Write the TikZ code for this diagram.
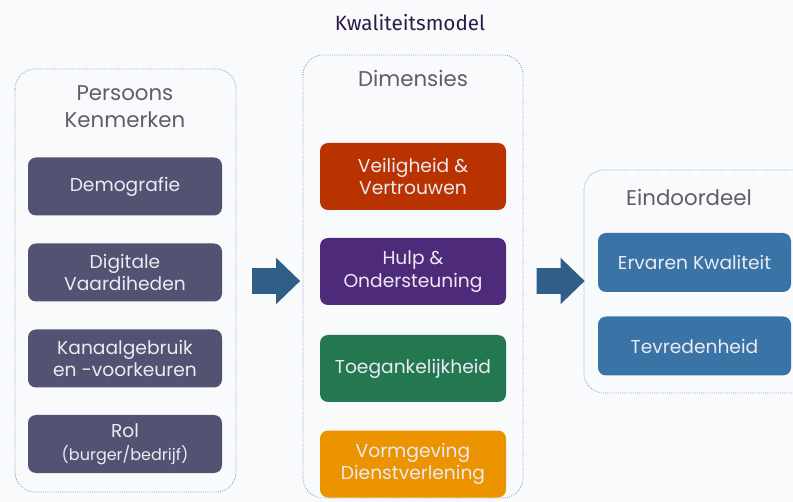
\documentclass[tikz,border=0pt]{standalone}
\usepackage{fontspec}
\setmainfont{Poppins}
\newfontfamily\titlefont{Fira Sans}
\usetikzlibrary{shapes.arrows}
\definecolor{bgcol}{HTML}{F9FAFC}
\definecolor{titlecol}{HTML}{2D1B45}
\definecolor{headcol}{HTML}{5E5E6A}
\definecolor{framecol}{HTML}{7F95B5}
\definecolor{slate}{HTML}{545272}
\definecolor{rust}{HTML}{B83300}
\definecolor{plum}{HTML}{4E2A7A}
\definecolor{jade}{HTML}{237852}
\definecolor{amber}{HTML}{EB9400}
\definecolor{steel}{HTML}{3A74A6}
\definecolor{arrowcol}{HTML}{2F5E87}
\definecolor{boxtext}{HTML}{ECEAF2}
\tikzset{
  x=0.75pt, y=-0.75pt,
  frame/.style={draw=framecol, densely dotted, line width=0.6pt, rounded corners=15pt},
  heading/.style={text=headcol, font=\fontsize{16}{20}\selectfont, align=center, inner sep=0pt},
  card/.style={rounded corners=6pt, align=center, text=boxtext, inner sep=0pt,
    font=\fontsize{14}{17}\selectfont},
  leftcard/.style={card, fill=slate, minimum width=145.5pt, minimum height=43.5pt},
  midcard/.style={card, minimum width=139.5pt, minimum height=50.25pt},
  rightcard/.style={card, fill=steel, minimum width=144.75pt, minimum height=44.25pt},
  flow/.style={single arrow, fill=arrowcol, inner xsep=0pt, inner ysep=9.375pt,
    minimum height=36pt, minimum width=34.5pt, single arrow head extend=7.875pt,
    single arrow tip angle=88, shape border rotate=0}
}
\begin{document}
\begin{tikzpicture}
  \clip (0,0) rectangle (793,502);
  \fill[bgcol] (0,0) rectangle (793,502);

  % title
  \node[text=titlecol, font=\titlefont\fontsize{15.5}{18}\selectfont] (title) at (410,23) {Kwaliteitsmodel};

  % group frames
  \draw[frame] (15,69) rectangle (236,492);
  \draw[frame] (303,55) rectangle (523,498);
  \draw[frame] (584,170) rectangle (830,393);

  % headings
  \node[heading] (hpers) at (125,106.5) {Persoons\\Kenmerken};
  \node[heading] (hdim) at (413,78) {Dimensies};
  \node[heading] (heind) at (689,197) {Eindoordeel};

  % personal characteristics
  \node[leftcard] (demo) at (125,186.5) {Demografie};
  \node[leftcard] (digi) at (125,272.5) {Digitale\\Vaardiheden};
  \node[leftcard] (kanaal) at (125,358.5) {Kanaalgebruik\\en -voorkeuren};
  \node[leftcard] (rol) at (125,444) {Rol\\{\fontsize{12}{15}\selectfont(burger/bedrijf)}};

  % dimensions
  \node[midcard, fill=rust] (veilig) at (413,176.5) {Veiligheid \&\\Vertrouwen};
  \node[midcard, fill=plum] (hulp) at (413,271.5) {Hulp \&\\Ondersteuning};
  \node[midcard, fill=jade] (toeg) at (413,368.5) {Toegankelijkheid};
  \node[midcard, fill=amber] (vorm) at (413,464) {Vormgeving\\Dienstverlening};

  % final judgement
  \node[rightcard] (ervaren) at (694.5,262.5) {Ervaren Kwaliteit};
  \node[rightcard] (tevr) at (694.5,346) {Tevredenheid};

  % flow arrows between the groups
  \node[flow] (arr1) at (269.5,281) {};
  \node[flow] (arr2) at (554,281) {};
\end{tikzpicture}
\end{document}
